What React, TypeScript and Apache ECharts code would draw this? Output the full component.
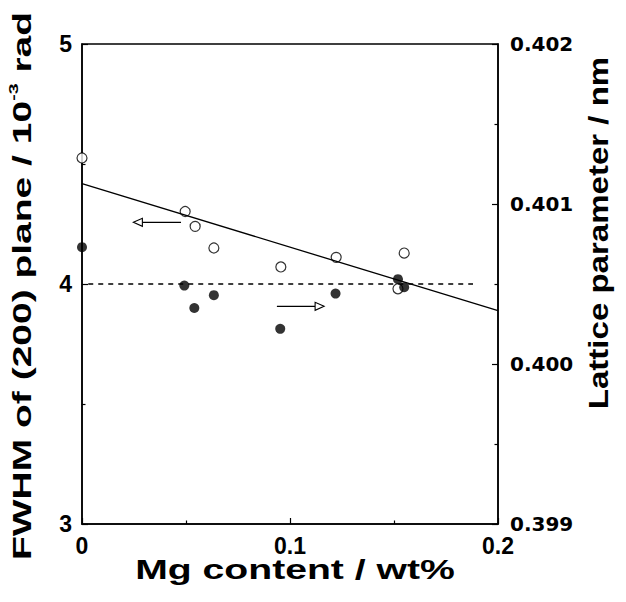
import React, { useEffect, useRef } from "react";
import * as echarts from "echarts";

// Open circles: FWHM of (200) plane (left axis, 10^-3 rad)
const mgOpen = [0, 0.0496, 0.0544, 0.0634, 0.0956, 0.1222, 0.1549, 0.1519];
const fwhmOpen = [4.525, 4.302, 4.24, 4.15, 4.071, 4.111, 4.129, 3.98];

// Filled circles: lattice parameter (right axis, nm)
const mgFilled = [0, 0.0492, 0.054, 0.0634, 0.0953, 0.1219, 0.1519, 0.1549];
const latticeFilled = [0.40073, 0.40049, 0.40035, 0.40043, 0.40022, 0.40044, 0.40053, 0.40048];

// Linear fit of FWHM (solid line)
const fitX = [0, 0.2];
const fitY = [4.418, 3.889];

// Dashed reference line (left-axis units)
const refX = [0.003, 0.188];
const refY = [4, 4];

// Arrows pointing to the axis each data set belongs to: [xStart, y, xEnd, y] in left-axis units
const arrows = [
  [0.0476, 4.257, 0.0247, 4.257],
  [0.0937, 3.907, 0.1164, 3.907],
];

const xTicks = { min: 0, max: 0.2, interval: 0.1 };
const leftTicks = { min: 3, max: 5, interval: 1 };
const rightTicks = { min: 0.399, max: 0.402, interval: 0.001 };

export default function App() {
  const ref = useRef<HTMLDivElement>(null);

  useEffect(() => {
    if (!ref.current) return;
    const chart = echarts.init(ref.current, undefined, { renderer: "svg" });
    const axisLine = { show: true, lineStyle: { color: "#000", width: 1.5 } };
    const tick = { show: true, inside: true, length: 6, lineStyle: { color: "#000", width: 1.2 } };
    const minor = { show: true, splitNumber: 2, length: 3.5, lineStyle: { color: "#000", width: 1.2 } };
    const labelMain = {
      fontSize: 23,
      fontWeight: "bold" as const,
      fontFamily: "Liberation Sans",
      color: "#000",
    };

    chart.setOption({
      animation: false,
      backgroundColor: "#fff",
      grid: {
        left: 82,
        right: 128,
        top: 44,
        bottom: 78,
        show: true,
        borderColor: "#000",
        borderWidth: 1.5,
      },
      xAxis: {
        type: "value",
        ...xTicks,
        axisLine,
        axisTick: tick,
        minorTick: minor,
        splitLine: { show: false },
        axisLabel: { ...labelMain, margin: 10, formatter: (v: number) => (v === 0 ? "0" : String(+v.toFixed(1))) },
      },
      yAxis: [
        {
          type: "value",
          position: "left",
          ...leftTicks,
          axisLine,
          axisTick: tick,
          minorTick: minor,
          splitLine: { show: false },
          axisLabel: { ...labelMain, margin: 10 },
        },
        {
          type: "value",
          position: "right",
          ...rightTicks,
          axisLine,
          axisTick: tick,
          minorTick: minor,
          splitLine: { show: false },
          axisLabel: {
            fontSize: 20,
            fontWeight: "bold",
            fontFamily: "DejaVu Sans",
            color: "#000",
            margin: 12,
            formatter: (v: number) => v.toFixed(3),
          },
        },
      ],
      graphic: [
        {
          type: "text",
          x: 295,
          y: 570,
          scaleX: 1.45,
          style: {
            text: "Mg content / wt%",
            fontSize: 27,
            fontWeight: "bold",
            fontFamily: "Liberation Sans",
            fill: "#000",
            align: "center",
            verticalAlign: "middle",
            textAlign: "center",
            textVerticalAlign: "middle",
          },
        },
        {
          type: "text",
          x: 22,
          y: 286,
          rotation: Math.PI / 2,
          scaleX: 1.5,
          style: {
            text: "{a|FWHM of (200) plane / 10}{s|-3}{a| rad}",
            fontSize: 26,
            fontWeight: "bold",
            fontFamily: "Liberation Sans",
            fill: "#000",
            align: "center",
            verticalAlign: "middle",
            textAlign: "center",
            textVerticalAlign: "middle",
            rich: {
              a: { fontSize: 26, fontWeight: "bold", fontFamily: "Liberation Sans", fill: "#000", lineHeight: 30 },
              s: {
                fontSize: 13,
                fontWeight: "bold",
                fontFamily: "Liberation Sans",
                fill: "#000",
                lineHeight: 30,
                verticalAlign: "top",
                padding: [0, 0, 14, 0],
              },
            },
          },
        },
        {
          type: "text",
          x: 598,
          y: 233,
          rotation: Math.PI / 2,
          scaleX: 1.18,
          style: {
            text: "Lattice parameter / nm",
            fontSize: 28,
            fontWeight: "bold",
            fontFamily: "Liberation Sans",
            fill: "#000",
            align: "center",
            verticalAlign: "middle",
            textAlign: "center",
            textVerticalAlign: "middle",
          },
        },
      ],
      series: [
        {
          type: "line",
          xAxisIndex: 0,
          yAxisIndex: 0,
          data: fitX.map((x, i) => [x, fitY[i]]),
          showSymbol: false,
          symbol: "none",
          lineStyle: { color: "#000", width: 1.3 },
          clip: false,
          silent: true,
        },
        {
          type: "line",
          xAxisIndex: 0,
          yAxisIndex: 0,
          data: refX.map((x, i) => [x, refY[i]]),
          showSymbol: false,
          symbol: "none",
          lineStyle: { color: "#000", width: 1.3, type: [5, 5] },
          clip: false,
          silent: true,
        },
        {
          type: "custom",
          xAxisIndex: 0,
          yAxisIndex: 0,
          clip: false,
          silent: true,
          data: arrows,
          encode: { x: [0, 2], y: [1, 3] },
          renderItem: (_params: any, api: any) => {
            const p1 = api.coord([api.value(0), api.value(1)]);
            const p2 = api.coord([api.value(2), api.value(3)]);
            const dir = p2[0] > p1[0] ? 1 : -1;
            const L = 9;
            const hw = 4;
            const bx = p2[0] - dir * L;
            return {
              type: "group",
              children: [
                {
                  type: "line",
                  shape: { x1: p1[0], y1: p1[1], x2: bx, y2: p2[1] },
                  style: { stroke: "#000", lineWidth: 1.3 },
                },
                {
                  type: "polygon",
                  shape: { points: [[p2[0], p2[1]], [bx, p2[1] - hw], [bx, p2[1] + hw]] },
                  style: { fill: "#fff", stroke: "#000", lineWidth: 1.1 },
                },
              ],
            };
          },
        },
        {
          type: "scatter",
          xAxisIndex: 0,
          yAxisIndex: 0,
          data: mgOpen.map((x, i) => [x, fwhmOpen[i]]),
          symbol: "circle",
          symbolSize: 10,
          itemStyle: { color: "#fff", borderColor: "#000", borderWidth: 1.2 },
          clip: false,
          silent: true,
        },
        {
          type: "scatter",
          xAxisIndex: 0,
          yAxisIndex: 1,
          data: mgFilled.map((x, i) => [x, latticeFilled[i]]),
          symbol: "circle",
          symbolSize: 10,
          itemStyle: { color: "#000", borderColor: "#000", borderWidth: 0 },
          clip: false,
          silent: true,
        },
      ],
    });
    return () => chart.dispose();
  }, []);

  return (
    <div
      ref={ref}
      style={{ position: "absolute", left: 0, top: 0, width: 626, height: 602, background: "#fff" }}
    />
  );
}
